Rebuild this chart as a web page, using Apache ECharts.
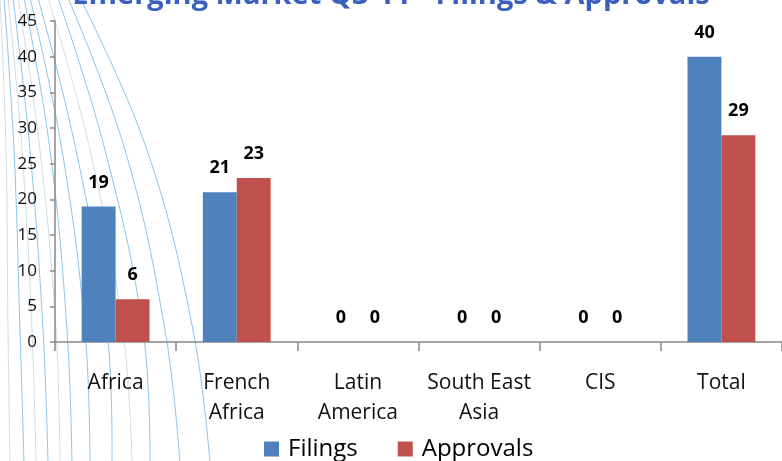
<!DOCTYPE html>
<html>
<head>
<meta charset="utf-8">
<script src="https://cdn.jsdelivr.net/npm/echarts@6/dist/echarts.min.js"></script>
<style>
html,body{margin:0;padding:0;background:#fff;}
#chart{width:782px;height:461px;}
</style>
</head>
<body>
<div id="chart"></div>
<script>
const categories = ['Africa', 'French\nAfrica', 'Latin\nAmerica', 'South East\nAsia', 'CIS', 'Total'];
const filings = [19, 21, 0, 0, 0, 40];
const approvals = [6, 23, 0, 0, 0, 29];
const yTicks = { min: 0, max: 45, interval: 5 };
const titleText = 'Emerging Market Q3-11 - Filings & Approvals';

// decorative background swooshes: x at y = 0, 150, 330, 461
const swooshTop = [0, 4, 8, 13, 18, 24, 30, 38, 48, 58, 68, 80];
const swooshMid = [6, 14, 22, 30, 40, 50, 62, 76, 90, 105, 125, 147];
const swooshLow = [8, 20, 32, 43, 56, 67, 85, 107, 123, 143, 165, 193];
const swooshEnd = [10, 24, 36, 48, 60, 72, 90, 112, 132, 150, 180, 210];
const swooshTone = ['g', 'b', 'g', 'b', 'g', 'b', 'b', 'b', 'g', 'b', 'b', 'b'];

const graphics = swooshTop.map((x0, i) => ({
  type: 'polyline',
  silent: true,
  z: -10,
  shape: {
    points: [[x0, -2], [swooshMid[i], 150], [swooshLow[i], 330], [swooshEnd[i], 463]],
    smooth: 0.4
  },
  style: { stroke: swooshTone[i] === 'b' ? '#8cc4e6' : '#d2dbe0', lineWidth: 1, fill: null }
}));

const chart = echarts.init(document.getElementById('chart'));
chart.setOption({
  animation: false,
  backgroundColor: '#fff',
  title: {
    text: titleText,
    left: 'center',
    top: -24,
    textStyle: { fontFamily: 'Open Sans', fontWeight: 'bold', fontSize: 29, color: '#3a5fbe' }
  },
  graphic: graphics,
  legend: {
    left: 259,
    top: 432,
    itemWidth: 15,
    itemHeight: 15,
    itemGap: 40,
    icon: 'rect',
    textStyle: { fontFamily: 'Open Sans', fontSize: 24, color: '#000', padding: [0, 0, 0, 4] },
    data: ['Filings', 'Approvals']
  },
  grid: { left: 55, right: -1, top: 21, bottom: 119, containLabel: false },
  xAxis: {
    type: 'category',
    data: categories,
    axisLine: { lineStyle: { color: '#888', width: 1.5 } },
    axisTick: { show: true, length: 9, lineStyle: { color: '#888', width: 1.5 } },
    axisLabel: { fontFamily: 'Open Sans', fontSize: 21, color: '#111', margin: 26, lineHeight: 30, interval: 0 }
  },
  yAxis: {
    type: 'value',
    min: yTicks.min,
    max: yTicks.max,
    interval: yTicks.interval,
    splitLine: { show: false },
    axisLine: { show: true, lineStyle: { color: '#888', width: 1.5 } },
    axisTick: { show: true, length: 5, lineStyle: { color: '#888', width: 1.5 } },
    axisLabel: { fontFamily: 'Open Sans', fontSize: 17, color: '#111', margin: 18 }
  },
  series: [
    {
      name: 'Filings', type: 'bar', data: filings,
      barGap: '0%', barCategoryGap: '44%',
      itemStyle: { color: '#4f81bd' },
      label: { show: true, position: 'top', distance: 15, fontFamily: 'Open Sans', fontWeight: 'bold', fontSize: 18, color: '#000' }
    },
    {
      name: 'Approvals', type: 'bar', data: approvals,
      barGap: '0%', barCategoryGap: '44%',
      itemStyle: { color: '#c0504d' },
      label: { show: true, position: 'top', distance: 15, fontFamily: 'Open Sans', fontWeight: 'bold', fontSize: 18, color: '#000' }
    }
  ]
});
</script>
</body>
</html>
